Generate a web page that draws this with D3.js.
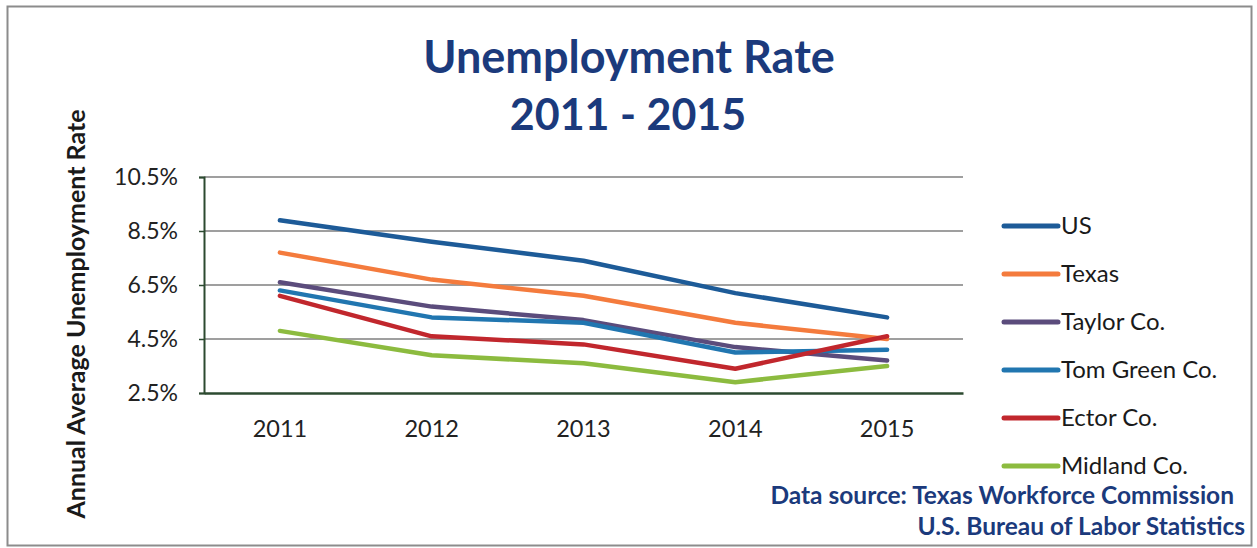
<!DOCTYPE html>
<html>
<head>
<meta charset="utf-8">
<script src="https://cdn.jsdelivr.net/npm/d3@7"></script>
<style>
  html, body { margin: 0; padding: 0; background: #fff; }
  svg { display: block; font-family: Lato, "Open Sans", sans-serif; }
</style>
</head>
<body>
<svg id="chart" width="1257" height="548"></svg>
<script>
// Annual average unemployment rate (%), 2011–2015
const years = ["2011", "2012", "2013", "2014", "2015"];
const seriesNames = ["US", "Texas", "Taylor Co.", "Tom Green Co.", "Ector Co.", "Midland Co."];
const usRates       = [8.9, 8.1, 7.4, 6.2, 5.3];
const texasRates    = [7.7, 6.7, 6.1, 5.1, 4.5];
const taylorRates   = [6.6, 5.7, 5.2, 4.2, 3.7];
const tomGreenRates = [6.3, 5.3, 5.1, 4.0, 4.1];
const ectorRates    = [6.1, 4.6, 4.3, 3.4, 4.6];
const midlandRates  = [4.8, 3.9, 3.6, 2.9, 3.5];
const yTicks = [2.5, 4.5, 6.5, 8.5, 10.5];
const seriesColors = ["#1d5b98", "#f47b3d", "#5b4c7c", "#2176b0", "#c1272d", "#8cbb3f"];

const seriesValues = [usRates, texasRates, taylorRates, tomGreenRates, ectorRates, midlandRates];
const series = seriesNames.map((name, i) => ({ name, color: seriesColors[i], values: seriesValues[i] }));

const svg = d3.select("#chart");
const navy = "#1b3a7c";

// outer frame
svg.append("rect")
  .attr("x", 7.5).attr("y", 6.5).attr("width", 1244).attr("height", 539)
  .attr("fill", "#fff").attr("stroke", "#8c8c8c").attr("stroke-width", 2);

// title
const title = svg.append("text")
  .attr("text-anchor", "middle")
  .attr("fill", navy)
  .attr("font-weight", 700);
title.append("tspan").attr("x", 629).attr("y", 73).attr("font-size", 45).text("Unemployment Rate");
title.append("tspan").attr("x", 628).attr("y", 130).attr("font-size", 43).text("2011 - 2015");

const plot = { left: 204, right: 963, top: 177, bottom: 393 };

const x = d3.scaleBand().domain(years).range([plot.left, plot.right]);
const y = d3.scaleLinear().domain([2.5, 10.5]).range([plot.bottom, plot.top]);

// horizontal gridlines
svg.append("g")
  .selectAll("line")
  .data(yTicks.slice(1))
  .join("line")
  .attr("x1", plot.left).attr("x2", plot.right)
  .attr("y1", d => y(d)).attr("y2", d => y(d))
  .attr("stroke", "#7f7f7f").attr("stroke-width", 1.5);

// y axis
const yAxis = svg.append("g")
  .attr("transform", `translate(${plot.left},0)`)
  .call(d3.axisLeft(y).tickValues(yTicks).tickFormat(d => d.toFixed(1) + "%").tickSize(5).tickPadding(21));
yAxis.select(".domain").attr("stroke", "#2c4a30").attr("stroke-width", 2);
yAxis.selectAll(".tick line").attr("stroke", "#2c4a30").attr("stroke-width", 1.5);
yAxis.selectAll(".tick text")
  .attr("font-family", "Lato, sans-serif").attr("font-size", 23).attr("fill", "#222");

// x axis
const xAxis = svg.append("g")
  .attr("transform", `translate(0,${plot.bottom})`)
  .call(d3.axisBottom(x).tickSize(0).tickPadding(27));
xAxis.select(".domain").attr("stroke", "#2c4a30").attr("stroke-width", 2.5);
xAxis.selectAll(".tick text")
  .attr("font-family", "Lato, sans-serif").attr("font-size", 23.5).attr("fill", "#222");

// y axis title
svg.append("text")
  .attr("transform", `translate(85,314) rotate(-90)`)
  .attr("text-anchor", "middle")
  .attr("font-weight", 700)
  .attr("font-size", 25)
  .attr("fill", "#1a1a1a")
  .text("Annual Average Unemployment Rate");

// series lines
const line = d3.line()
  .x((d, i) => x(years[i]) + x.bandwidth() / 2)
  .y(d => y(d));

svg.append("g")
  .selectAll("path")
  .data(series)
  .join("path")
  .attr("d", d => line(d.values))
  .attr("fill", "none")
  .attr("stroke", d => d.color)
  .attr("stroke-width", 4.5)
  .attr("stroke-linejoin", "round")
  .attr("stroke-linecap", "round");

// legend
const legend = svg.append("g").attr("transform", "translate(1004,226)");
const item = legend.selectAll("g")
  .data(series)
  .join("g")
  .attr("transform", (d, i) => `translate(0,${i * 48})`);
item.append("line")
  .attr("x1", 0).attr("x2", 54)
  .attr("stroke", d => d.color)
  .attr("stroke-width", 5)
  .attr("stroke-linecap", "round");
item.append("text")
  .attr("x", 57).attr("dy", "0.33em")
  .attr("font-size", 24)
  .attr("fill", "#1a1a1a")
  .text(d => d.name);

// source note
const note = svg.append("text")
  .attr("text-anchor", "end")
  .attr("fill", navy)
  .attr("font-weight", 700)
  .attr("font-size", 24.5);
note.append("tspan").attr("x", 1234).attr("y", 504).text("Data source: Texas Workforce Commission");
note.append("tspan").attr("x", 1245).attr("y", 535).text("U.S. Bureau of Labor Statistics");
</script>
</body>
</html>
